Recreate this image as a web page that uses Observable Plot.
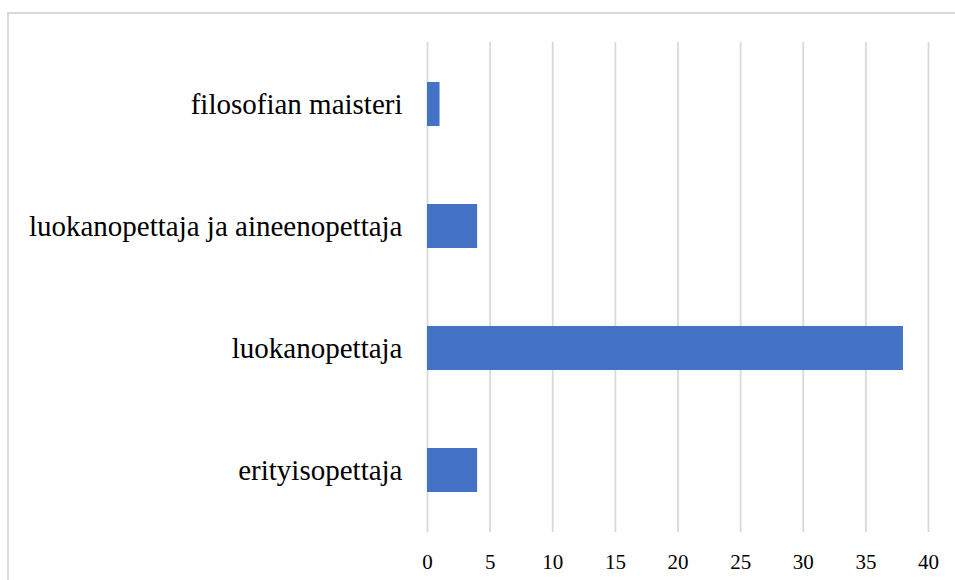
<!DOCTYPE html>
<html>
<head>
<meta charset="utf-8">
<script src="https://cdn.jsdelivr.net/npm/d3@7"></script>
<script src="https://cdn.jsdelivr.net/npm/@observablehq/plot@0.6"></script>
<style>
  html, body { margin: 0; padding: 0; background: #fff; }
  #wrap { position: relative; width: 955px; height: 580px; overflow: hidden; }
  #frame { position: absolute; left: 7px; top: 12px; width: 960px; height: 600px; border: 2px solid #d9d9d9; box-sizing: border-box; }
  #chart { position: absolute; left: 0; top: 0; }
</style>
</head>
<body>
<div id="wrap">
  <div id="frame"></div>
  <div id="chart"></div>
</div>
<script>
const categories = ["filosofian maisteri", "luokanopettaja ja aineenopettaja", "luokanopettaja", "erityisopettaja"];
const values = [1, 4, 38, 4];
const xTicks = [0, 5, 10, 15, 20, 25, 30, 35, 40];

const data = categories.map((c, i) => ({category: c, value: values[i]}));

const chart = Plot.plot({
  width: 955,
  height: 580,
  marginLeft: 427,
  marginRight: 27,
  marginTop: 42,
  marginBottom: 48,
  style: {fontFamily: "'Liberation Serif', 'Times New Roman', serif", background: "transparent", color: "#000"},
  x: {domain: [0, 40], ticks: xTicks, label: null},
  y: {domain: categories, padding: 0, label: null},
  marks: [
    Plot.ruleX(xTicks, {stroke: "#d9d9d9", strokeWidth: 1.8}),
    Plot.barX(data, {x: "value", y: "category", fill: "#4472c4", insetTop: 39, insetBottom: 39}),
    Plot.axisX({ticks: xTicks, tickSize: 0, tickPadding: 22, fontSize: 21, label: null}),
    Plot.axisY({tickSize: 0, tickPadding: 25, fontSize: 29, label: null})
  ]
});
document.getElementById("chart").appendChild(chart);
</script>
</body>
</html>
